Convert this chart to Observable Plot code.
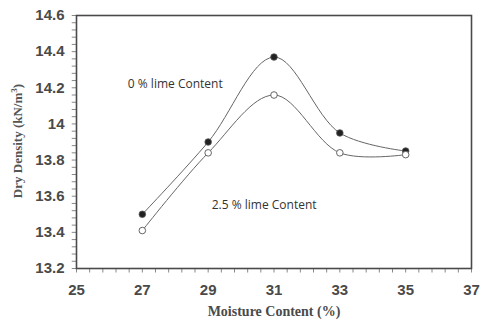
<!DOCTYPE html>
<html>
<head>
<meta charset="utf-8">
<script src="https://cdn.jsdelivr.net/npm/d3@7"></script>
<script src="https://cdn.jsdelivr.net/npm/@observablehq/plot@0.6"></script>
<style>
  html, body { margin: 0; padding: 0; background: #fff; }
  #chart svg { display: block; }
</style>
</head>
<body>
<div id="chart"></div>
<script>
const moisture = [27, 29, 31, 33, 35];
const lime0 = [13.50, 13.90, 14.37, 13.95, 13.85];
const lime25 = [13.41, 13.84, 14.16, 13.84, 13.83];
const xTicks = [25, 27, 29, 31, 33, 35, 37];
const yTicks = [13.2, 13.4, 13.6, 13.8, 14, 14.2, 14.4, 14.6];
const seriesLabels = ["0 % lime Content", "2.5 % lime Content"];
const labelX = [28.0, 30.7];
const labelY = [14.22, 13.55];

const d0 = moisture.map((m, i) => ({x: m, y: lime0[i]}));
const d25 = moisture.map((m, i) => ({x: m, y: lime25[i]}));
const labels = seriesLabels.map((t, i) => ({t, x: labelX[i], y: labelY[i]}));

const xMinor = d3.range(0, 31).map(i => +(25 + i * 0.4).toFixed(2));
const yMinor = d3.range(0, 36).map(i => +(13.2 + i * 0.04).toFixed(2));
const xLo = 25, yLo = 13.2;

const ink = "#4a4a4a";

const chart = Plot.plot({
  width: 481,
  height: 327,
  marginLeft: 76,
  marginRight: 10,
  marginTop: 15,
  marginBottom: 59,
  style: {background: "#fff", overflow: "visible"},
  x: {domain: [25, 37]},
  y: {domain: [13.2, 14.6]},
  marks: [
    Plot.ruleX(xMinor, {x: d => d, y1: yLo, y2: yLo - 0.025, stroke: "#888", strokeWidth: 1}),
    Plot.ruleY(yMinor, {y: d => d, x1: xLo, x2: xLo - 0.13, stroke: "#888", strokeWidth: 1}),
    Plot.axisX({ticks: xTicks, tickSize: 0, tickPadding: 16, tickFormat: d => String(d),
      fontFamily: "Liberation Sans, Arial, sans-serif", fontSize: 15, fontWeight: "bold", fill: ink,
      label: "Moisture Content (%)", labelAnchor: "center", labelOffset: 47, labelArrow: "none"}),
    Plot.axisY({ticks: yTicks, tickSize: 0, tickPadding: 12, tickFormat: d => String(+d.toFixed(1)),
      fontFamily: "Liberation Sans, Arial, sans-serif", fontSize: 15, fontWeight: "bold", fill: ink,
      label: null}),
    Plot.frame({stroke: ink, strokeWidth: 1.6}),
    Plot.line(d0, {x: "x", y: "y", curve: "catmull-rom", stroke: "#666", strokeWidth: 1}),
    Plot.line(d25, {x: "x", y: "y", curve: "catmull-rom", stroke: "#666", strokeWidth: 1}),
    Plot.dot(d0, {x: "x", y: "y", r: 3.3, fill: "#222", stroke: "#555", strokeWidth: 0.8}),
    Plot.dot(d25, {x: "x", y: "y", r: 3.3, fill: "#fff", stroke: "#555", strokeWidth: 0.9}),
    Plot.text(labels, {x: "x", y: "y", text: "t", fontFamily: "Open Sans, Lato, sans-serif",
      fontSize: 12, fill: "#333"})
  ]
});

chart.querySelectorAll("text").forEach(t => {
  if (t.textContent === "Moisture Content (%)") {
    t.setAttribute("font-family", "Liberation Serif, Times New Roman, serif");
    t.setAttribute("font-size", "14");
    t.setAttribute("font-weight", "bold");
    t.setAttribute("fill", ink);
  }
});

const ns = "http://www.w3.org/2000/svg";
const yt = document.createElementNS(ns, "text");
yt.setAttribute("transform", "translate(22,141) rotate(-90)");
yt.setAttribute("text-anchor", "middle");
yt.setAttribute("font-family", "Liberation Serif, Times New Roman, serif");
yt.setAttribute("font-size", "13");
yt.setAttribute("font-weight", "bold");
yt.setAttribute("fill", "#555");
yt.appendChild(document.createTextNode("Dry Density (kN/m"));
const sup = document.createElementNS(ns, "tspan");
sup.setAttribute("dy", "-5");
sup.setAttribute("font-size", "9");
sup.textContent = "3";
yt.appendChild(sup);
const close = document.createElementNS(ns, "tspan");
close.setAttribute("dy", "5");
close.textContent = ")";
yt.appendChild(close);
chart.appendChild(yt);

document.getElementById("chart").appendChild(chart);
</script>
</body>
</html>
